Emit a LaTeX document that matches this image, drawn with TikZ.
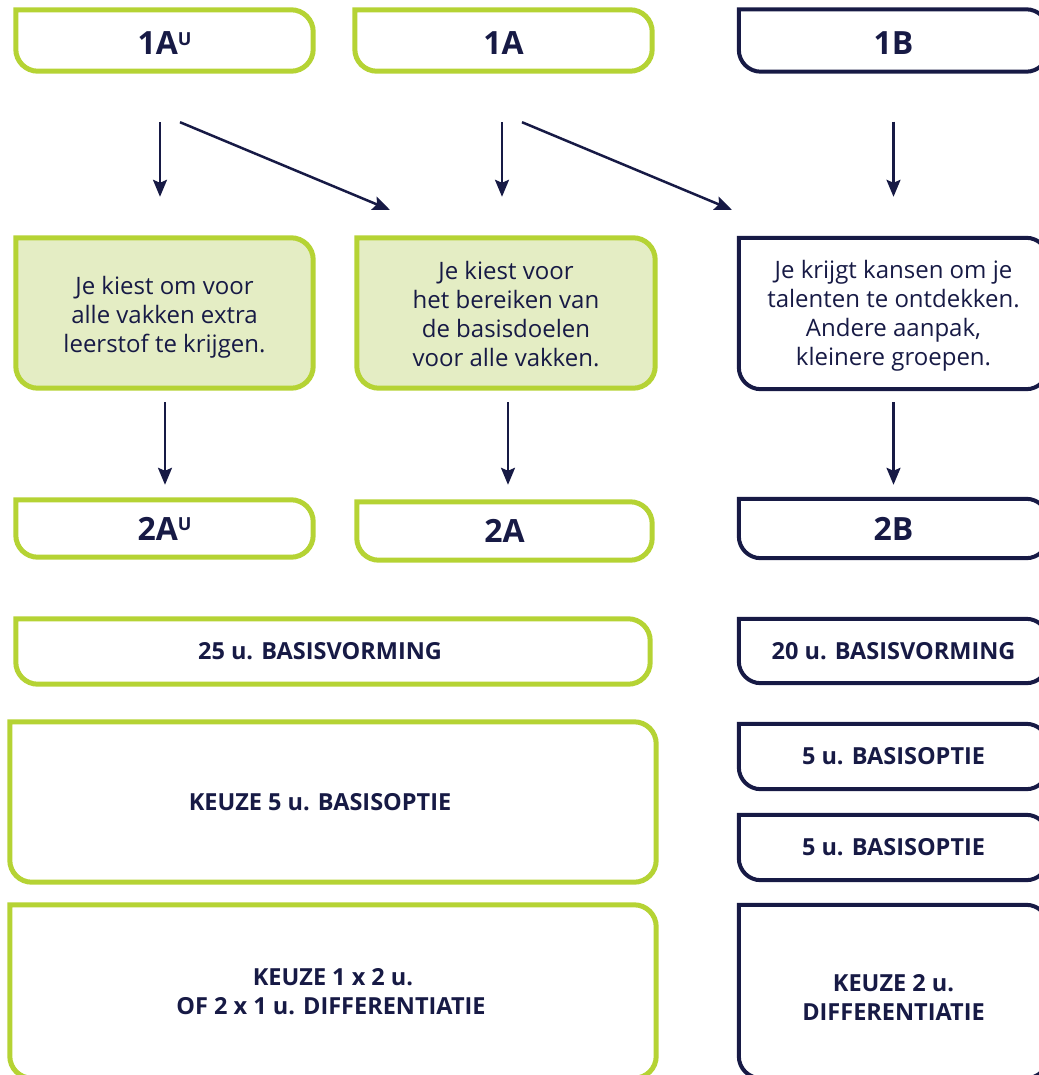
\documentclass[tikz,border=0pt]{standalone}
\usepackage{fontspec}
\setmainfont{Open Sans}
\usepackage{tikz}
\usetikzlibrary{arrows.meta,backgrounds}

\definecolor{lime}{HTML}{B5D334}
\definecolor{limefill}{HTML}{E4EDC4}
\definecolor{navy}{HTML}{171A45}

\newcommand{\supU}{\raisebox{9.5pt}{\fontsize{18}{18}\selectfont U}}
\newcommand{\low}[2][-3pt]{\raisebox{#1}[\height][\depth]{#2}}
\newcommand{\lines}[1]{\begin{tabular}{@{}c@{}}#1\end{tabular}}
\newcommand{\tabr}{22pt}
\newcommand{\tabline}[2]{%
	\path[#2] (#1.north west) -- ([xshift=-\tabr]#1.north east)
		arc[start angle=90, end angle=0, radius=\tabr] -- ([yshift=\tabr]#1.south east)
		arc[start angle=0, end angle=-90, radius=\tabr] -- ([xshift=\tabr]#1.south west)
		arc[start angle=270, end angle=180, radius=\tabr] -- cycle;}

\tikzset{
	tab/.style={inner sep=0pt, align=center, text=navy},
	big/.style={tab, font=\bfseries\fontsize{32}{36}\selectfont},
	lbl/.style={tab, font=\bfseries\fontsize{23.5}{29}\selectfont},
	txt/.style={tab, font=\fontsize{24}{29}\selectfont},
	greenline/.style={draw=lime, line width=5pt},
	greenfill/.style={greenline, fill=limefill},
	navyline/.style={draw=navy, line width=4pt},
	arr/.style={draw=navy, line width=2.5pt, -{Stealth[length=17pt, width=14pt, inset=3pt]}},
}

\begin{document}
\begin{tikzpicture}[x=1pt, y=1pt]
	\useasboundingbox (0,0) rectangle (1038,-1075);

	\node[big, minimum width=297, minimum height=61] (b1au) at (164.5,-40.5) {\low{1A\supU}};
	\node[big, minimum width=297, minimum height=61] (b1a) at (503.5,-40.5) {\low{1A}};
	\node[big, minimum width=309, minimum height=62] (b1b) at (893.5,-40.5) {\low{1B}};

	\node[txt, minimum width=297, minimum height=150] (m1) at (164.5,-313)
		{\low[-4.5pt]{\lines{Je kiest om voor\\alle vakken extra\\leerstof te krijgen.}}};
	\node[txt, minimum width=298, minimum height=150] (m2) at (506,-313)
		{\low[-4pt]{\lines{Je kiest voor\\het bereiken van\\de basisdoelen\\voor alle vakken.}}};
	\node[txt, minimum width=309, minimum height=151] (m3) at (893.5,-313.5)
		{\low[-2.5pt]{\lines{Je krijgt kansen om je\\talenten te ontdekken.\\Andere aanpak,\\kleinere groepen.}}};

	\node[big, minimum width=297, minimum height=57] (b2au) at (164.5,-528.5) {2A\supU};
	\node[big, minimum width=295, minimum height=58] (b2a) at (504.5,-531) {2A};
	\node[big, minimum width=309, minimum height=59] (b2b) at (893.5,-528.5) {2B};

	\node[lbl, minimum width=634, minimum height=65] (bv25) at (333,-651.5) {25 u. BASISVORMING\hspace*{26pt}};
	\node[lbl, minimum width=309, minimum height=64] (bv20) at (893.5,-651) {20 u. BASISVORMING};

	\node[lbl, minimum width=646, minimum height=160] (k5) at (333,-802) {KEUZE 5 u. BASISOPTIE\hspace*{26pt}};
	\node[lbl, minimum width=309, minimum height=65] (bo1) at (893.5,-756.5) {5 u. BASISOPTIE};
	\node[lbl, minimum width=309, minimum height=65] (bo2) at (893.5,-847.5) {5 u. BASISOPTIE};

	\node[lbl, minimum width=646, minimum height=173] (k12) at (333,-991.5)
		{KEUZE 1 x 2 u.\\OF 2 x 1 u. DIFFERENTIATIE\hspace*{4pt}};
	\node[lbl, minimum width=309, minimum height=173] (k2) at (893.5,-991.5)
		{\low[-9pt]{\lines{KEUZE 2 u.\\DIFFERENTIATIE}}};

	\begin{scope}[on background layer]
		\tabline{b1au}{greenline}
		\tabline{b1a}{greenline}
		\tabline{b1b}{navyline}
		\tabline{m1}{greenfill}
		\tabline{m2}{greenfill}
		\tabline{m3}{navyline}
		\tabline{b2au}{greenline}
		\tabline{b2a}{greenline}
		\tabline{b2b}{navyline}
		\tabline{bv25}{greenline}
		\tabline{bv20}{navyline}
		\tabline{k5}{greenline}
		\tabline{bo1}{navyline}
		\tabline{bo2}{navyline}
		\tabline{k12}{greenline}
		\tabline{k2}{navyline}
	\end{scope}

	\draw[arr] ([xshift=-4.5,yshift=-51]b1au.south) -- ([xshift=-4.5,yshift=41]m1.north);
	\draw[arr] ([xshift=15.5,yshift=-51]b1au.south) -- ([xshift=33,yshift=28]m2.north west);
	\draw[arr] ([xshift=-1.5,yshift=-51]b1a.south) -- ([xshift=-4,yshift=41]m2.north);
	\draw[arr] ([xshift=18.5,yshift=-51]b1a.south) -- ([xshift=-7,yshift=28]m3.north west);
	\draw[arr] ([yshift=-50]b1b.south) -- ([yshift=41]m3.north);
	\draw[arr] ([xshift=0.5,yshift=-14]m1.south) -- ([xshift=0.5,yshift=15]b2au.north);
	\draw[arr] ([xshift=2,yshift=-14]m2.south) -- ([xshift=3.5,yshift=17]b2a.north);
	\draw[arr] ([yshift=-13]m3.south) -- ([yshift=14]b2b.north);
\end{tikzpicture}
\end{document}
